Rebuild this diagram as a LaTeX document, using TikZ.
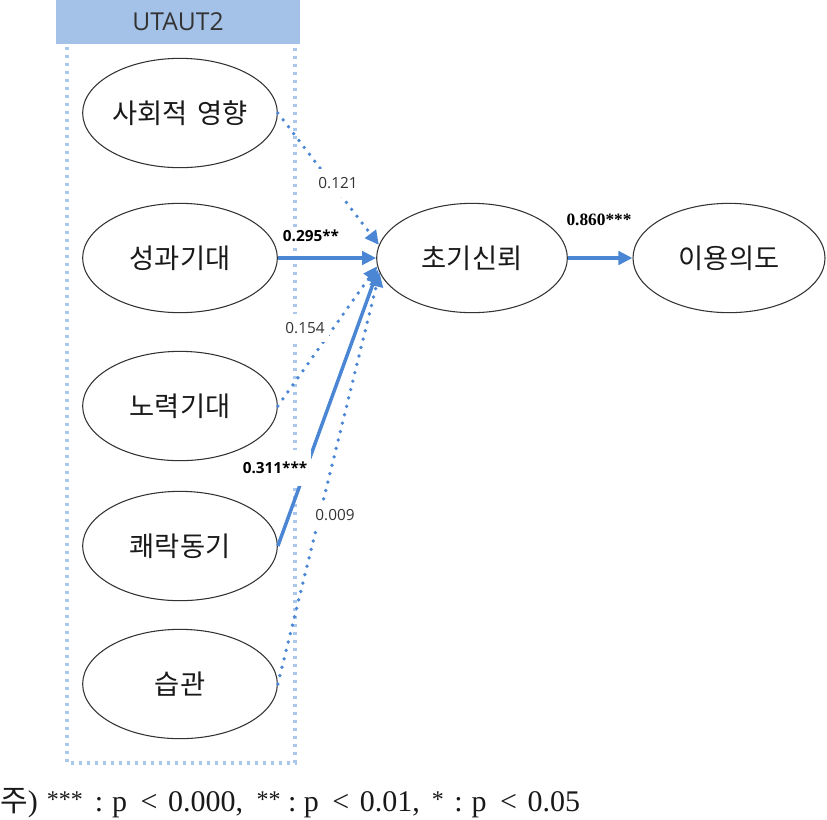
\documentclass[tikz,border=0pt]{standalone}
\usepackage{fontspec}
\setmainfont{Liberation Serif}
\setsansfont{Open Sans}
\newfontfamily\kr{Noto Sans CJK KR}
\usetikzlibrary{arrows.meta,shapes.geometric}
\definecolor{pathblue}{HTML}{4A86D4}
\definecolor{boxblue}{HTML}{A9C8EC}
\definecolor{hdrblue}{HTML}{A4C2E8}
\newcommand{\stars}[1]{\raisebox{.12em}{\fontsize{18}{20}\selectfont #1}}

\begin{document}
\begin{tikzpicture}[x=0.75pt,y=-0.75pt,>={Triangle[length=10.5pt,width=10pt]},
 lv/.style={draw=black!80,line width=0.8pt,ellipse,minimum width=146pt,minimum height=82pt,inner sep=0pt,font=\kr\fontsize{20.5}{24}\selectfont,text=black!90},
 sig/.style={->,pathblue,line width=2.6pt},
 ns/.style={->,pathblue,line width=2.8pt,line cap=round,dash pattern=on 0pt off 6.5pt},
 coef/.style={fill=white,inner xsep=3pt,inner ysep=6pt,font=\sffamily\fontsize{11.5}{13}\selectfont,text=black!80}]
\useasboundingbox (0,0) rectangle (827,819);
% UTAUT2 block
\node[fill=hdrblue,minimum width=183pt,minimum height=33pt,inner sep=0pt,font=\sffamily\fontsize{18.5}{22}\selectfont,text=black!80] (ut) at (178,22) {UTAUT2};
\draw[boxblue,line width=2.3pt,dash pattern=on 2.2pt off 3.8pt] (67,47) -- (67,763) -- (295,763) -- (295,47);
% constructs
\node[lv] (sa) at (180,113) {사회적\hspace{0.35em}영향};
\node[lv] (pe) at (180,258) {성과기대};
\node[lv] (ee) at (180,406) {노력기대};
\node[lv] (hm) at (180,546) {쾌락동기};
\node[lv] (hb) at (180,684) {습관};
\node[lv,minimum width=143pt] (tr) at (472,258) {초기신뢰};
\node[lv,minimum width=144pt] (bi) at (729,258) {이용의도};
% paths
\draw[ns] (sa.east) -- (tr.172);
\draw[sig] (pe.east) -- (tr.west);
\draw[ns] (ee.east) -- (tr.185);
\draw[sig] (hm.east) -- (tr.187);
\draw[ns] (hb.east) -- (tr.189);
\draw[sig] (tr.east) -- (bi.west);
% coefficients
\node[coef] (csa) at (338,183) {0.121};
\node[coef,font=\sffamily\bfseries\fontsize{11.5}{13}\selectfont,text=black,inner ysep=2pt] (cpe) at (311,236) {0.295**};
\node[coef] (cee) at (305,328) {0.154};
\node[coef,font=\sffamily\bfseries\fontsize{11.5}{13}\selectfont,text=black,inner ysep=9pt] (chm) at (275,468) {0.311***};
\node[coef] (chb) at (335,515) {0.009};
\node[coef,font=\bfseries\fontsize{13}{15}\selectfont,text=black,inner ysep=2pt] (cbi) at (599,220) {0.860***};
\node[anchor=base west,inner sep=0pt,font=\fontsize{22.5}{26}\selectfont,text=black!90] (nt) at (0,811) {{\kr 주})\hspace{.3em}\stars{***}\hspace{.4em}:\hspace{.3em}p\hspace{.45em}<\hspace{.35em}0.000,\hspace{.45em}\stars{**}\hspace{.25em}:\hspace{.25em}p\hspace{.45em}<\hspace{.35em}0.01,\hspace{.4em}\stars{*}\hspace{.35em}:\hspace{.3em}p\hspace{.45em}<\hspace{.35em}0.05};
\end{tikzpicture}
\end{document}
